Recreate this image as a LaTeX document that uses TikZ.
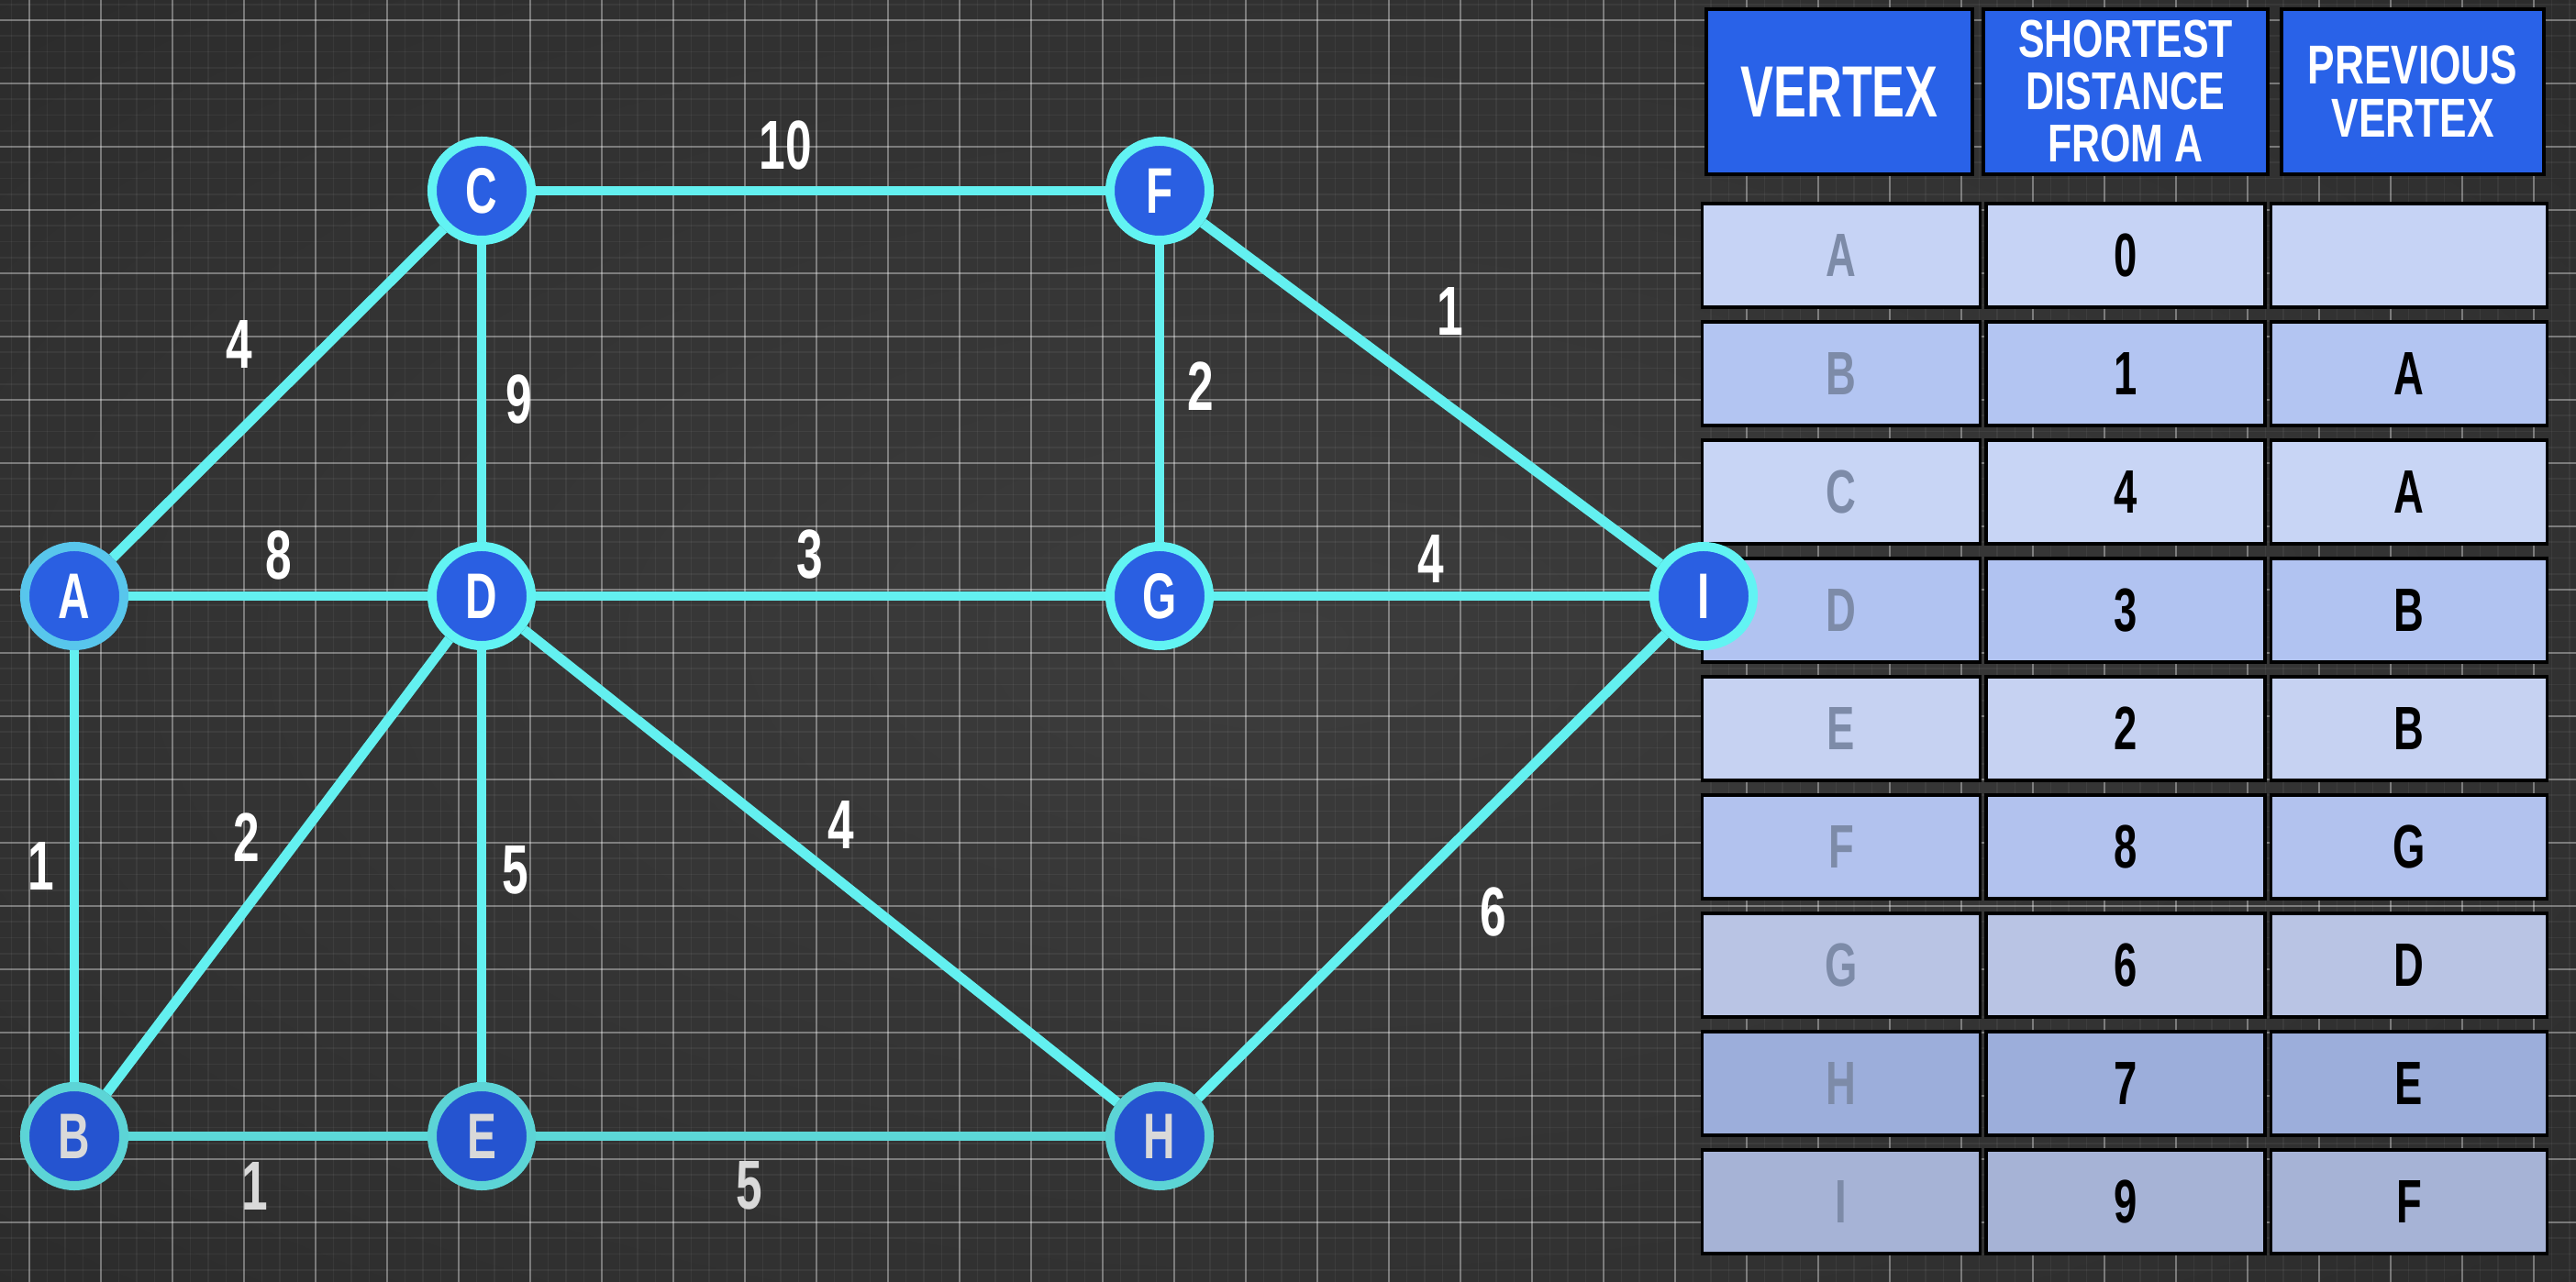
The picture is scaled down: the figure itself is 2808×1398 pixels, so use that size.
\documentclass[tikz,border=0pt]{standalone}
\usepackage{fontspec}
\newfontfamily\cond{Liberation Sans}[FakeStretch=0.68]
\newfontfamily\condh{Liberation Sans}[FakeStretch=0.74]
\definecolor{bgin}{HTML}{3C3C3C}
\definecolor{bgmid}{HTML}{303030}
\definecolor{bgout}{HTML}{222222}
\definecolor{nodeblue}{HTML}{2A5FE2}
\definecolor{nodeblueB}{HTML}{2554D0}
\definecolor{ringcyan}{HTML}{62F3F3}
\definecolor{ringteal}{HTML}{5CD4D6}
\definecolor{ringblue}{HTML}{58C6EC}
\definecolor{edgetop}{HTML}{63F0F0}
\definecolor{edgelow}{HTML}{5CD8D8}
\definecolor{headblue}{HTML}{2962E8}
\definecolor{rowA}{HTML}{C6D3F5}
\definecolor{rowB}{HTML}{B3C5F2}
\definecolor{rowC}{HTML}{C8D5F5}
\definecolor{rowD}{HTML}{B1C3F1}
\definecolor{rowE}{HTML}{C6D2F2}
\definecolor{rowF}{HTML}{B2C2EE}
\definecolor{rowG}{HTML}{B9C4E4}
\definecolor{rowH}{HTML}{9CAEDB}
\definecolor{rowI}{HTML}{A6B3D6}
\definecolor{vtxgray}{HTML}{7D8BA8}
\definecolor{labgray}{HTML}{D9D9D9}
\pgfdeclareradialshading{vign}{\pgfpoint{0bp}{0bp}}{color(0bp)=(bgin); color(28bp)=(bgmid); color(50bp)=(bgout); color(75bp)=(bgout)}
\begin{document}
\begin{tikzpicture}[x=0.01cm,y=-0.01cm,
  majorline/.style={white, opacity=0.33, line width=0.6pt},
  minorline/.style={white, opacity=0.05, line width=0.45pt},
  vert/.style={circle, draw=#1, line width=0.1cm, fill=nodeblue, minimum size=1.08cm,
    inner sep=0pt, text=white, font=\cond\bfseries\fontsize{20}{24}\selectfont},
  vert/.default=ringcyan,
  edge/.style={draw=#1, line width=3.1pt},
  edge/.default=edgetop,
  elabel/.style={text=white, inner sep=0pt, font=\cond\bfseries\fontsize{21.5}{24}\selectfont},
  headbox/.style={draw=black, line width=1pt, fill=headblue, text=white, inner sep=0pt,
    minimum height=1.80cm, align=center},
  cellbox/.style={draw=black, line width=1pt, inner sep=0pt, minimum height=1.13cm,
    font=\cond\bfseries\fontsize{19}{22}\selectfont},
  c1/.style={cellbox, minimum width=3.03cm, text=vtxgray},
  c2/.style={cellbox, minimum width=3.04cm, text=black},
  c3/.style={cellbox, minimum width=3.01cm, text=black}
]
\useasboundingbox (0,0) rectangle (2808,1398);
\begin{scope}
\clip (0,0) rectangle (2808,1398);
\shade[shading=vign] (0,0) rectangle (2808,1398);
\foreach \k in {-4,...,144} \draw[minorline] ({32+19.5*\k},0) -- ({32+19.5*\k},1398);
\foreach \k in {-4,...,84} \draw[minorline] (0,{22+17.25*\k}) -- (2808,{22+17.25*\k});
\foreach \k in {0,...,35} \draw[majorline] ({32+78*\k},0) -- ({32+78*\k},1398);
\foreach \k in {0,...,19} \draw[majorline] (0,{22+69*\k}) -- (2808,{22+69*\k});
\end{scope}

% table header
\node[headbox, minimum width=2.90cm, font=\cond\bfseries\fontsize{22.5}{26}\selectfont] (h1) at (2005,100) {VERTEX};
\node[headbox, minimum width=3.10cm, font=\condh\bfseries\fontsize{16.5}{16.2}\selectfont] (h2) at (2317,100) {SHORTEST\\DISTANCE\\FROM A};
\node[headbox, minimum width=2.86cm, font=\condh\bfseries\fontsize{17}{16.5}\selectfont] (h3) at (2630,100) {PREVIOUS\\VERTEX};

% table body
\foreach \v/\d/\p/\col [count=\i from 0] in {A/0//rowA, B/1/A/rowB, C/4/A/rowC, D/3/B/rowD, E/2/B/rowE, F/8/G/rowF, G/6/D/rowG, H/7/E/rowH, I/9/F/rowI}{
  \node[c1, fill=\col] (v\v) at (2007,{278.5+129*\i}) {\v};
  \node[c2, fill=\col] (d\v) at (2317,{278.5+129*\i}) {\d};
  \node[c3, fill=\col] (p\v) at (2626,{278.5+129*\i}) {\p};
}

% graph nodes
\node[vert=ringblue] (A) at (81,650) {A};
\node[vert=ringteal, fill=nodeblueB, text=labgray] (B) at (81,1239) {B};
\node[vert] (C) at (525,208) {C};
\node[vert] (D) at (525,650) {D};
\node[vert=ringteal, fill=nodeblueB, text=labgray] (E) at (525,1239) {E};
\node[vert] (F) at (1264,208) {F};
\node[vert] (G) at (1264,650) {G};
\node[vert=ringteal, fill=nodeblueB, text=labgray] (H) at (1264,1239) {H};
\node[vert] (I) at (1857,650) {I};

% edges
\draw[edge] (A) -- (C);
\draw[edge] (A) -- (D);
\draw[edge] (A) -- (B);
\draw[edge] (C) -- (F);
\draw[edge] (C) -- (D);
\draw[edge] (F) -- (G);
\draw[edge] (F) -- (I);
\draw[edge] (D) -- (G);
\draw[edge] (G) -- (I);
\draw[edge] (B) -- (D);
\draw[edge] (D) -- (E);
\draw[edge] (D) -- (H);
\draw[edge] (I) -- (H);
\draw[edge=edgelow] (B) -- (E);
\draw[edge=edgelow] (E) -- (H);

% edge labels
\node[elabel] (lCF) at (856,158) {10};
\node[elabel] (lAC) at (261,376) {4};
\node[elabel] (lCD) at (566,435) {9};
\node[elabel] (lFG) at (1309,421) {2};
\node[elabel] (lFI) at (1581,340) {1};
\node[elabel] (lAD) at (304,605) {8};
\node[elabel] (lDG) at (883,605) {3};
\node[elabel] (lGI) at (1560,609) {4};
\node[elabel] (lAB) at (45,944) {1};
\node[elabel] (lBD) at (269,913) {2};
\node[elabel] (lDE) at (562,949) {5};
\node[elabel] (lDH) at (917,899) {4};
\node[elabel] (lHI) at (1628,994) {6};
\node[elabel, text=labgray] (lBE) at (278,1293) {1};
\node[elabel, text=labgray] (lEH) at (817,1293) {5};
\end{tikzpicture}
\end{document}
